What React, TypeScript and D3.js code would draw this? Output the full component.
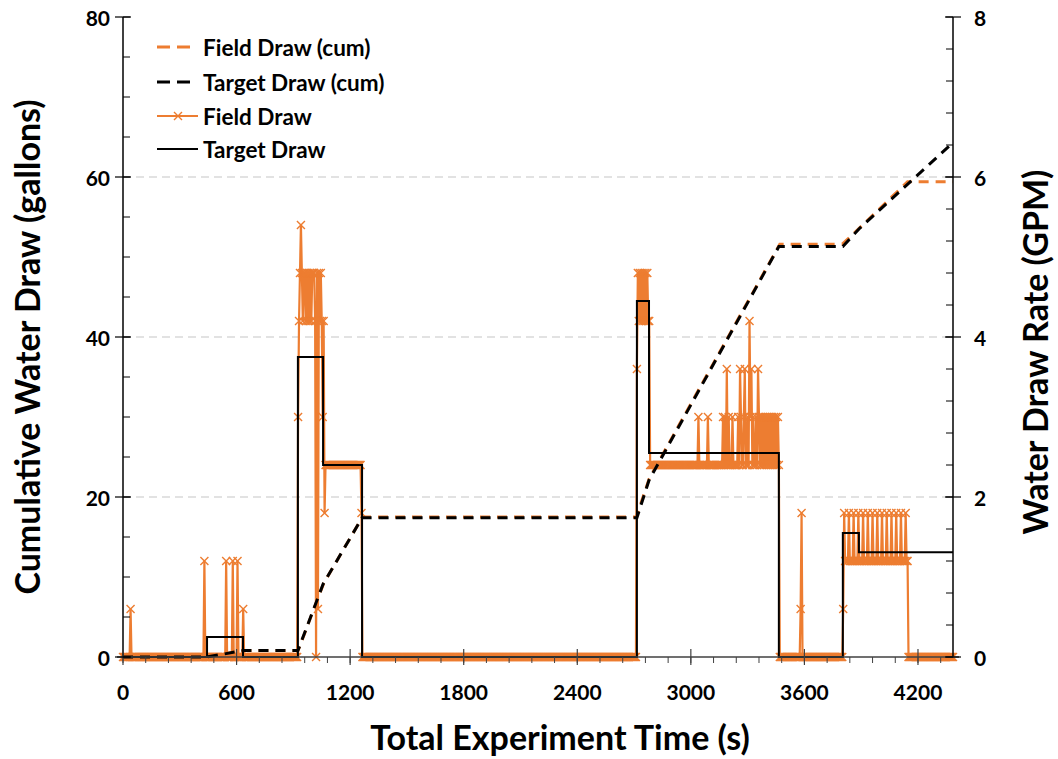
import React from 'react';
import * as d3 from 'd3';

const W = 1058;
const H = 759;

// ---- axis ticks ----
const xTickValues = [0, 600, 1200, 1800, 2400, 3000, 3600, 4200];
const leftTickValues = [0, 20, 40, 60, 80];
const rightTickValues = [0, 2, 4, 6, 8];
const gridValues = [20, 40, 60];

// ---- Target Draw (GPM), step series: start time (s) and rate ----
const targetT = [0, 444, 634, 924, 1057, 1263, 2715, 2779, 3465, 3803, 3888];
const targetGPM = [0, 0.25, 0, 3.75, 2.4, 0, 4.45, 2.55, 0, 1.55, 1.31];

// ---- Target Draw cumulative (gallons) ----
const targetCumT = [0, 444, 634, 924, 1057, 1263, 2715, 2779, 3465, 3803, 3888, 4385];
const targetCumGal = [0, 0, 0.8, 0.8, 9.1, 17.4, 17.4, 22.1, 51.3, 51.3, 53.5, 64.3];

// ---- Field Draw cumulative (gallons) ----
const fieldCumT = [0, 440, 635, 925, 1060, 1265, 2712, 2780, 3470, 3800, 3890, 4145, 4385];
const fieldCumGal = [0, 0, 0.8, 0.8, 9.2, 17.5, 17.5, 22.3, 51.6, 51.6, 53.6, 59.4, 59.4];

// ---- Field Draw (GPM), meter readings every SAMPLE_S seconds ----
const SAMPLE_S = 5;
const END_S = 4385;
// stretches of constant reading [from s, to s, GPM]
const fieldRuns: [number, number, number][] = [
  [0, 4385, 0],
  [930, 1050, 4.2],
  [1070, 1255, 2.4],
  [2720, 2780, 4.2],
  [2785, 3465, 2.4],
  [3815, 4145, 1.2],
];
// individual readings that differ from their stretch [s, GPM]
const fieldReadings: [number, number][] = [
  [40, 0.6], [430, 1.2], [545, 1.2], [580, 1.2], [605, 1.2], [635, 0.6],
  [925, 3.0], [935, 4.8], [940, 5.4], [945, 4.8], [955, 4.8], [960, 4.8], [970, 4.8],
  [980, 4.8], [990, 4.8], [1000, 4.8], [1005, 4.8], [1010, 4.8], [1020, 0], [1025, 4.8],
  [1030, 0.6], [1035, 4.8], [1045, 4.8], [1055, 3.0], [1060, 4.2], [1065, 1.8], [1260, 1.8],
  [2715, 3.6], [2720, 4.8], [2730, 4.8], [2740, 4.8], [2750, 4.8], [2760, 4.8], [2770, 4.8],
  [3040, 3.0], [3090, 3.0], [3170, 3.0], [3180, 3.0], [3190, 3.6], [3200, 3.0], [3220, 3.0],
  [3250, 3.0], [3260, 3.6], [3265, 3.0], [3280, 3.0], [3285, 3.6], [3300, 3.0], [3310, 4.2],
  [3315, 3.0], [3320, 3.6], [3330, 3.0], [3345, 3.0], [3355, 3.6],
  [3360, 3.0], [3370, 3.0], [3380, 3.0], [3390, 3.0], [3400, 3.0], [3410, 3.0],
  [3420, 3.0], [3430, 3.0], [3440, 3.0], [3450, 3.0], [3460, 3.0],
  [3580, 0.6], [3585, 1.8], [3805, 0.6],
  [3810, 1.8], [3835, 1.8], [3860, 1.8], [3885, 1.8], [3910, 1.8], [3935, 1.8], [3960, 1.8],
  [3985, 1.8], [4010, 1.8], [4035, 1.8], [4060, 1.8], [4085, 1.8], [4110, 1.8], [4135, 1.8],
];

const ORANGE = '#ED7D31';
const FONT = "Lato, 'Open Sans', sans-serif";

function buildField(): [number, number][] {
  const readings = new Map<number, number>(fieldReadings.map(([t, v]) => [t, v]));
  const out: [number, number][] = [];
  for (let t = 0; t <= END_S; t += SAMPLE_S) {
    let v = 0;
    for (const [a, b, val] of fieldRuns) if (t >= a && t <= b) v = val;
    if (readings.has(t)) v = readings.get(t)!;
    out.push([t, v]);
  }
  return out;
}

export default function App() {
  const left = 123, right = 953, top = 17, bottom = 657;
  const x = d3.scaleLinear().domain([0, END_S]).range([left, right]);
  const yL = d3.scaleLinear().domain([0, 80]).range([bottom, top]);
  const yR = d3.scaleLinear().domain([0, 8]).range([bottom, top]);

  const field = buildField();
  const fieldLine = d3.line<[number, number]>().x(d => x(d[0])).y(d => yR(d[1]))(field)!;

  const targetPts: [number, number][] = targetT.map((t, i) => [t, targetGPM[i]]);
  targetPts.push([END_S, targetGPM[targetGPM.length - 1]]);
  const targetLine = d3.line<[number, number]>().x(d => x(d[0])).y(d => yR(d[1])).curve(d3.curveStepAfter)(targetPts)!;

  const cumLine = d3.line<[number, number]>().x(d => x(d[0])).y(d => yL(d[1]));
  const targetCum = cumLine(targetCumT.map((t, i) => [t, targetCumGal[i]]))!;
  const fieldCum = cumLine(fieldCumT.map((t, i) => [t, fieldCumGal[i]]))!;

  const xMinor = d3.range(0, END_S, 120);
  const lMinor = d3.range(0, 80.1, 5);
  const rMinor = d3.range(0, 8.01, 0.4);

  const cross = 'M-4,-4L4,4M-4,4L4,-4';

  const legendRows = [
    { label: 'Field Draw (cum)', color: ORANGE, dashed: true, marker: false },
    { label: 'Target Draw (cum)', color: '#000', dashed: true, marker: false },
    { label: 'Field Draw', color: ORANGE, dashed: false, marker: true },
    { label: 'Target Draw', color: '#000', dashed: false, marker: false },
  ];
  const legendY = [47, 82, 116, 149];

  return (
    <svg width={W} height={H} style={{ position: 'absolute', left: 0, top: 0, background: '#fff' }}
      fontFamily={FONT}>
      <rect x={0} y={0} width={W} height={H} fill="#fff" />
      {/* gridlines */}
      {gridValues.map(v => (
        <line key={v} x1={left} x2={right} y1={yL(v)} y2={yL(v)} stroke="#D9D9D9" strokeWidth={1.5} strokeDasharray="8,5" />
      ))}

      {/* field draw */}
      <path d={fieldLine} fill="none" stroke={ORANGE} strokeWidth={2.2} strokeLinejoin="round" />
      <g stroke={ORANGE} strokeWidth={1.4} fill="none">
        {field.map(([t, v], i) => (
          <path key={i} d={cross} transform={`translate(${x(t)},${yR(v)})`} />
        ))}
      </g>

      {/* field cum */}
      <path d={fieldCum} fill="none" stroke={ORANGE} strokeWidth={3} strokeDasharray="10,7" />
      {/* target step */}
      <path d={targetLine} fill="none" stroke="#000" strokeWidth={2} />
      {/* target cum */}
      <path d={targetCum} fill="none" stroke="#000" strokeWidth={3} strokeDasharray="10,7" />

      {/* axes */}
      <line x1={left} x2={left} y1={top} y2={bottom} stroke="#000" strokeWidth={1.5} />
      <line x1={right} x2={right} y1={top} y2={bottom} stroke="#000" strokeWidth={1.5} />
      <line x1={left - 6} x2={right + 6} y1={bottom} y2={bottom} stroke="#404040" strokeWidth={1.5} />

      {xMinor.map(v => (
        <line key={'xm' + v} x1={x(v)} x2={x(v)} y1={bottom} y2={bottom + 6} stroke="#404040" strokeWidth={1} />
      ))}
      {xTickValues.map(v => (
        <line key={'xt' + v} x1={x(v)} x2={x(v)} y1={bottom - 8} y2={bottom + 8} stroke="#404040" strokeWidth={1.2} />
      ))}
      {lMinor.map(v => (
        <line key={'lm' + v} x1={left} x2={left + 7} y1={yL(v)} y2={yL(v)} stroke="#000" strokeWidth={1} />
      ))}
      {leftTickValues.map(v => (
        <line key={'lt' + v} x1={left - 8} x2={left + 8} y1={yL(v)} y2={yL(v)} stroke="#000" strokeWidth={1.2} />
      ))}
      {rMinor.map(v => (
        <line key={'rm' + v} x1={right - 7} x2={right} y1={yR(v)} y2={yR(v)} stroke="#000" strokeWidth={1} />
      ))}
      {rightTickValues.map(v => (
        <line key={'rt' + v} x1={right - 8} x2={right + 8} y1={yR(v)} y2={yR(v)} stroke="#000" strokeWidth={1.2} />
      ))}

      {/* tick labels */}
      <g fontWeight="bold" fontSize={21} fill="#000">
        {xTickValues.map(v => (
          <text key={'xl' + v} x={x(v)} y={700} textAnchor="middle">{v}</text>
        ))}
        {leftTickValues.map(v => (
          <text key={'ll' + v} x={110} y={yL(v)} textAnchor="end" dominantBaseline="central">{v}</text>
        ))}
        {rightTickValues.map(v => (
          <text key={'rl' + v} x={974} y={yR(v)} textAnchor="start" dominantBaseline="central">{v}</text>
        ))}
      </g>

      {/* axis titles */}
      <g fontWeight="bold" fontSize={34} fill="#000">
        <text x={560} y={750} textAnchor="middle">Total Experiment Time (s)</text>
        <text transform="translate(40,347) rotate(-90)" textAnchor="middle">Cumulative Water Draw (gallons)</text>
        <text transform="translate(1048,352) rotate(-90)" textAnchor="middle">Water Draw Rate (GPM)</text>
      </g>

      {/* legend */}
      <g fontWeight="bold" fontSize={22.5}>
        {legendRows.map((r, i) => (
          <g key={r.label}>
            {r.dashed ? (
              <line x1={157} x2={190} y1={legendY[i]} y2={legendY[i]} stroke={r.color} strokeWidth={3} strokeDasharray="13,7" />
            ) : (
              <line x1={157} x2={198} y1={legendY[i]} y2={legendY[i]} stroke={r.color} strokeWidth={2} />
            )}
            {r.marker && <path d={cross} transform={`translate(178,${legendY[i]})`} stroke={r.color} strokeWidth={1.4} fill="none" />}
            <text x={203} y={legendY[i]} dominantBaseline="central" fill="#000">{r.label}</text>
          </g>
        ))}
      </g>
    </svg>
  );
}
